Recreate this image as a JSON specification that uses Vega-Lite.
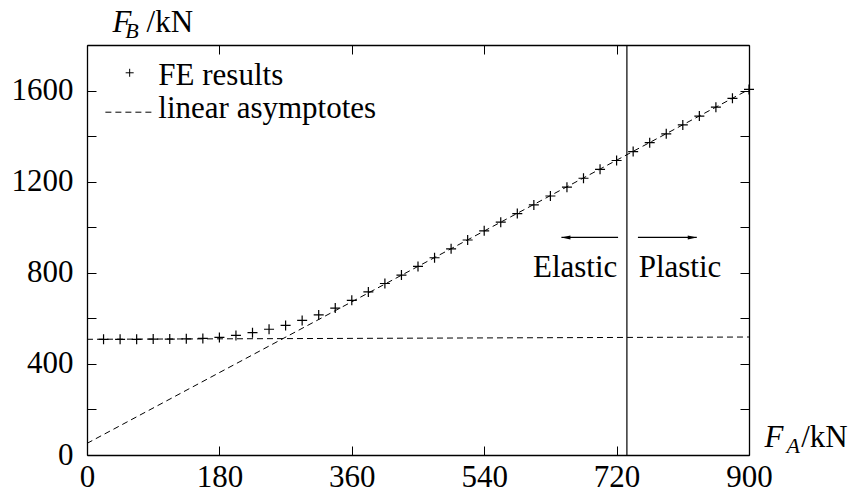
{
  "$schema": "https://vega.github.io/schema/vega-lite/v6.json",
  "width": 662,
  "height": 410,
  "autosize": {"type": "none"},
  "padding": {"left": 87, "top": 45, "right": 109, "bottom": 35},
  "background": "white",
  "config": {
    "view": {"stroke": null},
    "axis": {
      "grid": false,
      "domainColor": "black",
      "domainWidth": 1.3,
      "tickColor": "black",
      "tickWidth": 1,
      "tickSize": -9,
      "labelColor": "black",
      "labelFont": "serif",
      "labelFontSize": 31,
      "labelFlush": false,
      "labelOverlap": false,
      "title": null
    }
  },
  "datasets": {
    "fe": [
      {"x": 22.5, "y": 508}, {"x": 45, "y": 508}, {"x": 67.5, "y": 508}, {"x": 90, "y": 509},
      {"x": 112.5, "y": 509}, {"x": 135, "y": 510}, {"x": 157.5, "y": 512}, {"x": 180, "y": 516},
      {"x": 202.5, "y": 525}, {"x": 225, "y": 537}, {"x": 247.5, "y": 552}, {"x": 270, "y": 569},
      {"x": 292.5, "y": 591}, {"x": 315, "y": 615}, {"x": 337.5, "y": 645}, {"x": 360, "y": 679},
      {"x": 382.5, "y": 716}, {"x": 405, "y": 753}, {"x": 427.5, "y": 790}, {"x": 450, "y": 828},
      {"x": 472.5, "y": 866}, {"x": 495, "y": 905}, {"x": 517.5, "y": 944}, {"x": 540, "y": 984},
      {"x": 562.5, "y": 1022}, {"x": 585, "y": 1060}, {"x": 607.5, "y": 1098}, {"x": 630, "y": 1137},
      {"x": 652.5, "y": 1176}, {"x": 675, "y": 1215}, {"x": 697.5, "y": 1254}, {"x": 720, "y": 1293},
      {"x": 742.5, "y": 1332}, {"x": 765, "y": 1371}, {"x": 787.5, "y": 1410}, {"x": 810, "y": 1449},
      {"x": 832.5, "y": 1488}, {"x": 855, "y": 1527}, {"x": 877.5, "y": 1566}, {"x": 900, "y": 1605}
    ],
    "asym": [
      {"line": "plateau", "x": 0, "y": 508}, {"line": "plateau", "x": 900, "y": 518},
      {"line": "slope", "x": 0, "y": 51}, {"line": "slope", "x": 900, "y": 1605},
      {"line": "legend", "x": 25, "y": 1505}, {"line": "legend", "x": 93, "y": 1505}
    ],
    "vline": [{"x": 734, "y": 0, "y2": 1800}],
    "shafts": [{"x": 645, "x2": 722, "y": 955}, {"x": 749, "x2": 829, "y": 955}],
    "heads": [{"dir": "left", "x": 645, "y": 955}, {"dir": "right", "x": 829, "y": 955}],
    "legendPlus": [{"x": 58, "y": 1678}],
    "leftText": [
      {"x": 721, "y": 782, "text": "Elastic"}
    ],
    "rightText": [
      {"x": 750, "y": 782, "text": "Plastic"},
      {"x": 97, "y": 1626, "text": "FE results"},
      {"x": 97, "y": 1481, "text": "linear asymptotes"}
    ],
    "titleF": [{"x": 34.6, "y": 1855, "text": "F"}, {"x": 921, "y": 36.5, "text": "F"}],
    "titleSub": [{"x": 52, "y": 1829, "text": "B"}, {"x": 951, "y": 9, "text": "A"}],
    "titleUnit": [{"x": 81, "y": 1855, "text": "/kN"}, {"x": 971, "y": 36.5, "text": "/kN"}]
  },
  "layer": [
    {
      "data": {"name": "fe"},
      "mark": {"type": "point", "shape": "M-1,0L1,0M0,-1L0,1", "filled": false, "stroke": "black", "strokeWidth": 1.2, "size": 100, "opacity": 1, "clip": false},
      "encoding": {
        "x": {"field": "x", "type": "quantitative", "scale": {"domain": [0, 900], "nice": false, "zero": false},
              "axis": {"orient": "bottom", "values": [0, 180, 360, 540, 720, 900], "labelPadding": 16, "format": "d", "labelFont": "serif"}},
        "y": {"field": "y", "type": "quantitative", "scale": {"domain": [0, 1800], "nice": false, "zero": false},
              "axis": {"orient": "left", "values": [0, 200, 400, 600, 800, 1000, 1200, 1400, 1600, 1800], "labelPadding": 23, "format": "d", "labelFont": "serif",
                       "labelExpr": "datum.value % 400 == 0 && datum.value < 1800 ? datum.label : ''"}}
      }
    },
    {
      "data": {"name": "asym"},
      "mark": {"type": "line", "stroke": "black", "strokeWidth": 1, "strokeDash": [6, 4], "clip": false},
      "encoding": {
        "x": {"field": "x", "type": "quantitative", "scale": {"domain": [0, 900], "nice": false, "zero": false},
              "axis": {"orient": "top", "values": [0, 180, 360, 540, 720, 900], "labels": false}},
        "y": {"field": "y", "type": "quantitative", "scale": {"domain": [0, 1800], "nice": false, "zero": false},
              "axis": {"orient": "right", "values": [0, 200, 400, 600, 800, 1000, 1200, 1400, 1600, 1800], "labels": false}},
        "detail": {"field": "line", "type": "nominal"}
      }
    },
    {
      "data": {"name": "vline"},
      "mark": {"type": "rule", "stroke": "black", "strokeWidth": 1.2},
      "encoding": {
        "x": {"field": "x", "type": "quantitative", "axis": null, "scale": {"domain": [0, 900], "nice": false, "zero": false}},
        "y": {"field": "y", "type": "quantitative", "axis": null, "scale": {"domain": [0, 1800], "nice": false, "zero": false}},
        "y2": {"field": "y2"}
      }
    },
    {
      "data": {"name": "shafts"},
      "mark": {"type": "rule", "stroke": "black", "strokeWidth": 1.2},
      "encoding": {
        "x": {"field": "x", "type": "quantitative", "axis": null, "scale": {"domain": [0, 900], "nice": false, "zero": false}},
        "x2": {"field": "x2"},
        "y": {"field": "y", "type": "quantitative", "axis": null, "scale": {"domain": [0, 1800], "nice": false, "zero": false}}
      }
    },
    {
      "data": {"name": "heads"},
      "mark": {"type": "point", "filled": true, "fill": "black", "opacity": 1, "size": 81},
      "encoding": {
        "x": {"field": "x", "type": "quantitative", "axis": null, "scale": {"domain": [0, 900], "nice": false, "zero": false}},
        "y": {"field": "y", "type": "quantitative", "axis": null, "scale": {"domain": [0, 1800], "nice": false, "zero": false}},
        "shape": {"field": "dir", "type": "nominal", "legend": null,
                  "scale": {"domain": ["left", "right"], "range": ["M0,0L2,-0.44L2,0.44Z", "M0,0L-2,-0.44L-2,0.44Z"]}}
      }
    },
    {
      "data": {"name": "legendPlus"},
      "mark": {"type": "point", "shape": "M-1,0L1,0M0,-1L0,1", "filled": false, "stroke": "black", "strokeWidth": 1, "size": 64, "opacity": 1},
      "encoding": {
        "x": {"field": "x", "type": "quantitative", "axis": null, "scale": {"domain": [0, 900], "nice": false, "zero": false}},
        "y": {"field": "y", "type": "quantitative", "axis": null, "scale": {"domain": [0, 1800], "nice": false, "zero": false}}
      }
    },
    {
      "data": {"name": "leftText"},
      "mark": {"type": "text", "align": "right", "baseline": "alphabetic", "fontSize": 31, "font": "serif", "color": "black", "clip": false},
      "encoding": {
        "x": {"field": "x", "type": "quantitative", "axis": null, "scale": {"domain": [0, 900], "nice": false, "zero": false}},
        "y": {"field": "y", "type": "quantitative", "axis": null, "scale": {"domain": [0, 1800], "nice": false, "zero": false}},
        "text": {"field": "text"}
      }
    },
    {
      "data": {"name": "rightText"},
      "mark": {"type": "text", "align": "left", "baseline": "alphabetic", "fontSize": 31, "font": "serif", "color": "black", "clip": false},
      "encoding": {
        "x": {"field": "x", "type": "quantitative", "axis": null, "scale": {"domain": [0, 900], "nice": false, "zero": false}},
        "y": {"field": "y", "type": "quantitative", "axis": null, "scale": {"domain": [0, 1800], "nice": false, "zero": false}},
        "text": {"field": "text"}
      }
    },
    {
      "data": {"name": "titleF"},
      "mark": {"type": "text", "align": "left", "baseline": "alphabetic", "fontSize": 31, "fontStyle": "italic", "font": "serif", "color": "black", "clip": false},
      "encoding": {
        "x": {"field": "x", "type": "quantitative", "axis": null, "scale": {"domain": [0, 900], "nice": false, "zero": false}},
        "y": {"field": "y", "type": "quantitative", "axis": null, "scale": {"domain": [0, 1800], "nice": false, "zero": false}},
        "text": {"field": "text"}
      }
    },
    {
      "data": {"name": "titleSub"},
      "mark": {"type": "text", "align": "left", "baseline": "alphabetic", "fontSize": 22, "fontStyle": "italic", "font": "serif", "color": "black", "clip": false},
      "encoding": {
        "x": {"field": "x", "type": "quantitative", "axis": null, "scale": {"domain": [0, 900], "nice": false, "zero": false}},
        "y": {"field": "y", "type": "quantitative", "axis": null, "scale": {"domain": [0, 1800], "nice": false, "zero": false}},
        "text": {"field": "text"}
      }
    },
    {
      "data": {"name": "titleUnit"},
      "mark": {"type": "text", "align": "left", "baseline": "alphabetic", "fontSize": 31, "font": "serif", "color": "black", "clip": false},
      "encoding": {
        "x": {"field": "x", "type": "quantitative", "axis": null, "scale": {"domain": [0, 900], "nice": false, "zero": false}},
        "y": {"field": "y", "type": "quantitative", "axis": null, "scale": {"domain": [0, 1800], "nice": false, "zero": false}},
        "text": {"field": "text"}
      }
    }
  ],
  "resolve": {"axis": {"x": "independent", "y": "independent"}}
}
